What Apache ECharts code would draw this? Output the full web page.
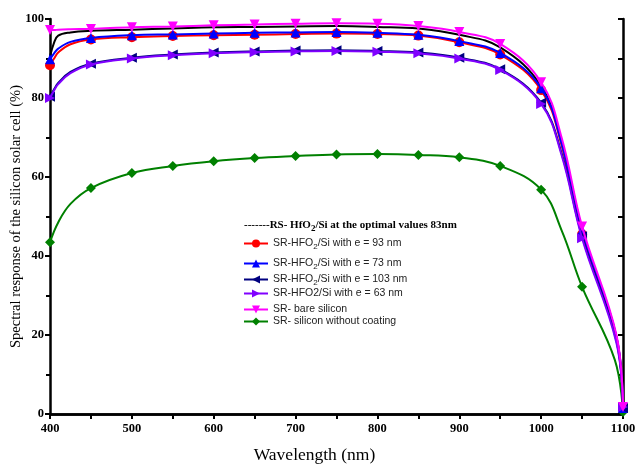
<!DOCTYPE html>
<html><head><meta charset="utf-8">
<script src="https://cdn.jsdelivr.net/npm/echarts@6/dist/echarts.min.js"></script>
<style>html,body{margin:0;padding:0;background:#fff}#c{width:637px;height:464px}</style>
</head><body><div id="c"></div>
<script>
// Wavelengths (nm); markers drawn only at multiples of 50
var wl = [400,405,410,425,450,500,550,600,650,700,750,800,850,900,950,1000,1025,1050,1092,1100];
var sr93   = [88.3,90.0,91.5,93.6,94.8,95.4,95.7,95.9,96.0,96.2,96.3,96.2,95.8,94.1,91.0,82.0,68.0,45.5,19.0,1.5];
var sr73   = [89.8,91.3,92.5,94.2,95.2,95.9,96.1,96.3,96.5,96.6,96.7,96.5,96.0,94.4,91.4,82.5,68.5,46.5,19.5,1.5];
var sr103  = [80.3,82.2,83.8,86.6,88.7,90.2,91.0,91.5,91.8,92.0,92.1,91.9,91.5,90.2,87.3,78.8,66.0,45.0,18.5,1.5];
var sr63   = [80.0,81.9,83.5,86.3,88.5,90.0,90.8,91.3,91.6,91.8,91.9,91.7,91.3,90.0,87.1,78.5,65.5,44.5,18.0,1.8];
var srBare = [97.2,97.2,97.3,97.4,97.5,97.9,98.1,98.4,98.6,98.8,98.9,98.8,98.2,96.7,93.7,84.0,70.0,47.5,20.0,1.8];
var rsOpt  = [90.5,94.0,95.8,96.6,97.0,97.3,97.6,97.9,98.0,98.1,98.2,98.0,97.6,96.0,92.8,83.0,69.0,46.8,19.5,1.5];
var wlG    = [400,410,425,450,500,550,600,650,700,750,800,850,900,950,1000,1025,1050,1090,1100];
var srNoCoat = [43.5,48.5,53.2,57.2,61.0,62.8,64.0,64.8,65.3,65.7,65.8,65.6,65.0,62.8,56.8,46.5,32.2,13.7,0.5];

var names = ['SR-HFO2/Si with e = 93 nm','SR-HFO2/Si with e = 73 nm','SR-HFO2/Si with e = 103 nm',
             'SR-HFO2/Si with e = 63 nm','SR- bare silicon','SR- silicon without coating'];
var headerName = 'RS- HfO2/Si at the optimal values 83nm';

function mk(xs, ys){
  return xs.map(function(x,i){
    var d = {value:[x, ys[i]]};
    if (x % 50 !== 0) d.symbol = 'none';
    return d;
  });
}
function ser(name, xs, ys, color, symbol, rot, z){
  return {name:name, type:'line', data:mk(xs,ys), smooth:0.4,
    symbol:symbol, symbolSize:10, symbolRotate:rot, showAllSymbol:true, z:z,
    lineStyle:{color:color, width:2}, itemStyle:{color:color}, emphasis:{disabled:true}};
}

var chart = echarts.init(document.getElementById('c'));
var legFont = {fontFamily:'Liberation Sans, Arial, sans-serif', fontSize:10.5, color:'#222',
  rich:{sub:{fontFamily:'Liberation Sans, Arial, sans-serif', fontSize:8, color:'#222', verticalAlign:'bottom', padding:[6,0,0,0]}}};
var legTops = [238, 258, 274, 288, 304, 316];
var legends = names.map(function(n,i){
  return {data:[n], left:243, top:legTops[i], orient:'vertical', itemWidth:24, itemHeight:10, itemGap:0,
    padding:0, textStyle:legFont, selectedMode:false,
    formatter:function(s){ return i===3 ? s : s.replace('HFO2/', 'HFO{sub|2}/'); }};
});

chart.setOption({
  animation:false,
  backgroundColor:'#fff',
  grid:{left:50, right:14, top:19, bottom:50, outerBoundsMode:'none', containLabel:false},
  legend: legends,
  graphic:[{type:'text', left:244, top:220, style:{
    text:'-------RS- HfO{s|2}/Si at the optimal values 83nm',
    rich:{s:{fontFamily:'Liberation Serif, Times New Roman, serif', fontSize:9, fontWeight:'bold', fill:'#000', padding:[7,0,0,0]}},
    font:'bold 11px "Liberation Serif", "Times New Roman", serif', fill:'#000'}}],
  xAxis:[{type:'value', min:400, max:1100, interval:100, position:'bottom',
    name:'Wavelength (nm)', nameLocation:'middle', nameGap:32, nameMoveOverlap:false,
    nameTextStyle:{fontFamily:'Liberation Serif, Times New Roman, serif', fontSize:17.5, color:'#000', padding:[0,44,0,0]},
    axisLine:{lineStyle:{color:'#000', width:2.5}},
    axisTick:{show:true, inside:false, length:5, lineStyle:{color:'#000', width:2}},
    minorTick:{show:true, splitNumber:2, length:4, lineStyle:{color:'#000', width:2}},
    axisLabel:{fontFamily:'Liberation Serif, Times New Roman, serif', fontWeight:'bold', fontSize:12.5, color:'#000', margin:8,
      formatter:function(v){return String(v);}},
    splitLine:{show:false}},
   {type:'value', min:400, max:1100, interval:50, position:'top',
    axisLine:{lineStyle:{color:'#000', width:2.5}},
    axisTick:{show:true, inside:true, length:5, lineStyle:{color:'#000', width:2}},
    axisLabel:{show:false}, splitLine:{show:false}}],
  yAxis:[{type:'value', min:0, max:100, interval:20, position:'left',
    name:'Spectral response of the silicon solar cell (%)', nameLocation:'middle', nameGap:26, nameMoveOverlap:false,
    nameTextStyle:{fontFamily:'Liberation Serif, Times New Roman, serif', fontSize:14.5, color:'#000'},
    axisLine:{show:true, lineStyle:{color:'#000', width:2.5}},
    axisTick:{show:true, inside:false, length:5, lineStyle:{color:'#000', width:2}},
    minorTick:{show:true, splitNumber:2, length:4, lineStyle:{color:'#000', width:2}},
    axisLabel:{fontFamily:'Liberation Serif, Times New Roman, serif', fontWeight:'bold', fontSize:12.5, color:'#000', margin:6},
    splitLine:{show:false}},
   {type:'value', min:0, max:100, interval:10, position:'right',
    axisLine:{show:true, lineStyle:{color:'#000', width:2.5}},
    axisTick:{show:true, inside:true, length:5, lineStyle:{color:'#000', width:2}},
    axisLabel:{show:false}, splitLine:{show:false}}],
  series:[
    ser(names[5], wlG, srNoCoat, '#008000', 'diamond', 0, 2),
    {name:headerName, type:'line', data:wl.map(function(x,i){return [x, rsOpt[i]];}), smooth:0.4,
      symbol:'none', z:3, lineStyle:{color:'#000', width:2}, itemStyle:{color:'#000'}, emphasis:{disabled:true}},
    ser(names[0], wl, sr93, '#ff0000', 'circle', 0, 4),
    ser(names[1], wl, sr73, '#0000ff', 'triangle', 0, 5),
    ser(names[2], wl, sr103, '#000080', 'triangle', 90, 6),
    ser(names[3], wl, sr63, '#8000ff', 'triangle', -90, 7),
    ser(names[4], wl, srBare, '#ff00ff', 'triangle', 180, 8)
  ]
});
</script></body></html>
